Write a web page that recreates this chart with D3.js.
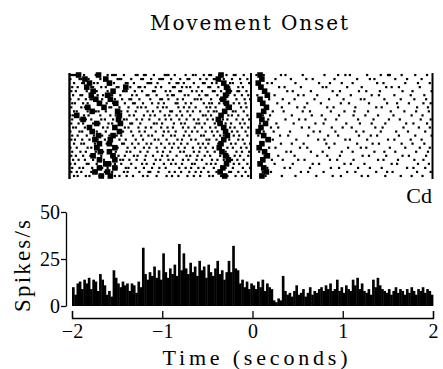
<!DOCTYPE html>
<html>
<head>
<meta charset="utf-8">
<script src="https://cdn.jsdelivr.net/npm/d3@7"></script>
<style>
  html, body { margin: 0; padding: 0; background: #fff; }
  svg { display: block; }
  text { fill: #000; }
</style>
</head>
<body>
<script>
// Spike times per trial, in centiseconds relative to movement onset
const trialSpikes = [
  [-198,-196,-194,-192,-184,-171,-169,-158,-153,-151,-149,-140,-127,-125,-118,-116,-107,-95,-93,-91,-84,-72,-64,-61,-52,-46,-44,-35,-27,-19,-17,-8,6,14,33,38,57,81,96,104,109,128,143,151,152,153,166,181,194],
  [-199,-189,-187,-179,-166,-161,-147,-145,-143,-132,-121,-119,-110,-101,-99,-97,-88,-78,-70,-68,-56,-49,-41,-39,-30,-21,-12,-4,12,27,44,61,68,92,117,131,136,159,172,188],
  [-195,-186,-184,-173,-169,-157,-151,-138,-136,-129,-114,-112,-110,-103,-90,-82,-80,-74,-63,-53,-51,-43,-38,-31,-23,-20,-11,-2,18,23,49,75,87,100,112,139,146,170,184,197],
  [-197,-191,-176,-174,-165,-160,-148,-146,-133,-124,-122,-117,-105,-99,-86,-84,-76,-71,-67,-58,-47,-45,-36,-26,-24,-14,-9,9,31,37,55,79,83,106,122,149,155,163,186],
  [-198,-193,-181,-172,-170,-158,-141,-139,-137,-128,-120,-108,-106,-94,-89,-79,-77,-65,-60,-54,-42,-40,-33,-22,-15,-13,-5,15,40,46,66,90,98,119,127,142,167,178,199],
  [-196,-188,-186,-169,-163,-155,-153,-144,-131,-126,-115,-113,-104,-92,-87,-85,-73,-69,-57,-50,-48,-37,-29,-25,-18,-10,-3,7,26,52,58,73,95,110,133,141,158,176,191],
  [-199,-190,-182,-177,-175,-164,-150,-142,-134,-132,-123,-111,-100,-98,-91,-81,-75,-62,-59,-55,-44,-34,-32,-28,-16,-7,-1,20,35,48,70,86,102,121,125,147,165,180,193],
  [-197,-194,-185,-180,-167,-159,-152,-139,-130,-128,-119,-109,-102,-96,-83,-81,-72,-66,-52,-46,-43,-35,-30,-19,-13,-6,11,29,42,62,77,99,108,130,150,161,174,190,198],
  [-198,-187,-183,-178,-162,-156,-154,-145,-135,-125,-121,-116,-103,-97,-93,-80,-74,-68,-61,-49,-45,-39,-27,-24,-11,-5,16,34,51,59,84,91,115,138,144,162,183,195],
  [-195,-192,-180,-171,-168,-160,-147,-143,-136,-127,-114,-108,-100,-89,-87,-78,-70,-64,-56,-47,-41,-38,-29,-20,-17,-8,24,36,57,65,88,103,114,129,154,169,182,196],
  [-199,-196,-184,-179,-166,-155,-149,-144,-134,-129,-118,-111,-106,-95,-90,-82,-76,-67,-53,-50,-44,-33,-25,-21,-14,-4,13,21,45,67,78,97,113,126,140,157,177,189],
  [-197,-188,-182,-176,-165,-161,-152,-140,-137,-126,-120,-112,-101,-94,-88,-79,-71,-63,-58,-48,-42,-31,-26,-16,-9,-2,19,38,53,60,82,94,118,135,152,164,187,198],
  [-198,-190,-185,-174,-167,-157,-153,-142,-133,-131,-122,-107,-104,-98,-85,-77,-73,-60,-57,-51,-40,-36,-28,-22,-12,-7,10,28,47,71,80,105,120,133,148,171,179,194],
  [-196,-193,-183,-177,-163,-158,-150,-139,-135,-124,-116,-110,-99,-92,-86,-75,-69,-62,-54,-45,-39,-32,-23,-18,-10,-3,22,30,56,64,89,101,111,137,145,168,185,197],
  [-199,-189,-186,-175,-170,-160,-146,-141,-132,-123,-117,-105,-96,-91,-83,-72,-65,-59,-50,-43,-37,-27,-21,-15,-6,14,25,43,69,76,93,116,124,143,160,173,192],
  [-197,-191,-181,-173,-164,-156,-148,-143,-130,-121,-113,-109,-97,-88,-84,-74,-68,-55,-52,-41,-34,-30,-19,-13,-4,8,32,41,63,85,96,119,132,139,163,181,199],
  [-198,-194,-186,-178,-169,-161,-154,-145,-138,-127,-119,-106,-102,-93,-81,-76,-66,-61,-49,-46,-38,-29,-24,-14,-9,17,24,50,74,81,104,109,128,151,158,176,188],
  [-195,-187,-184,-172,-166,-159,-142,-140,-131,-124,-115,-110,-99,-90,-85,-77,-70,-58,-53,-47,-36,-33,-22,-17,-7,-1,12,33,45,58,83,92,117,134,141,166,178,191],
  [-199,-192,-180,-176,-168,-151,-147,-136,-128,-118,-112,-104,-95,-87,-80,-73,-64,-56,-50,-42,-35,-26,-20,-11,-5,20,27,54,62,86,107,121,127,153,170,186,197],
  [-197,-188,-182,-171,-163,-157,-149,-137,-133,-122,-114,-103,-97,-89,-78,-74,-63,-57,-48,-40,-31,-28,-16,-10,-2,9,39,44,66,79,100,112,136,147,159,182,195],
  [-198,-193,-185,-177,-165,-154,-146,-139,-129,-125,-116,-108,-98,-92,-82,-71,-67,-59,-51,-45,-34,-25,-18,-12,-3,15,30,48,73,84,98,123,130,149,167,174,193],
  [-196,-190,-183,-174,-168,-162,-144,-141,-134,-126,-117,-105,-100,-91,-86,-75,-69,-60,-54,-43,-37,-30,-21,-15,-8,23,35,52,59,87,95,113,140,146,162,180,190],
  [-199,-194,-181,-179,-170,-155,-150,-143,-132,-120,-115,-107,-96,-88,-83,-76,-65,-62,-49,-44,-39,-27,-19,-13,-4,11,26,46,68,75,103,110,125,155,161,184,196],
  [-197,-189,-185,-175,-164,-158,-148,-138,-135,-127,-118,-109,-101,-94,-79,-72,-66,-58,-52,-41,-32,-28,-20,-9,-1,18,37,43,65,88,97,118,131,144,172,179,192],
  [-198,-192,-187,-176,-170,-161,-153,-140,-136,-123,-113,-111,-102,-90,-84,-77,-68,-61,-55,-47,-38,-24,-22,-14,-6,13,22,55,63,80,106,115,138,150,156,183,198],
  [-195,-191,-182,-178,-167,-163,-150,-145,-137,-130,-119,-114,-104,-93,-87,-80,-70,-63,-56,-46,-42,-33,-26,-17,-10,-3,16,34,49,72,90,99,122,129,148,165,177,189]
];

// Behavioural event markers per trial (centiseconds)
const eventA = [-190,-183,-178,-181,-174,-176,-171,-167,-180,-175,-192,-185,-170,-178,-175,-168,-172,-167,-170,-166,-174,-167,-160,-167,-172,-165];
const eventB = [-168,-160,-156,-138,-152,-158,-155,-149,-162,-147,-145,-146,-144,-150,-145,-152,-155,-156,-150,-156,-152,-150,-157,-150,-158,-155];
const eventC = [-33,-36,-30,-27,-25,-28,-31,-27,-24,-29,-33,-36,-34,-30,-28,-26,-30,-33,-35,-32,-28,-25,-27,-31,-34,-29];
const eventD = [10,12,8,11,15,18,10,13,17,14,9,12,16,11,8,14,19,12,9,15,18,13,10,14,17,12];

// Peri-event time histogram: firing rate (spikes/s) in 25 ms bins from -2 s to +2 s
const binWidth = 0.025;
const histRate = [
  10,6,12,13,9,14,12,15,9,14,
  13,8,17,14,11,6,8,5,19,15,
  12,10,13,11,12,8,12,11,7,13,
  10,31,17,14,18,16,21,15,19,14,
  28,18,15,20,17,22,16,33,19,28,
  20,17,23,18,21,16,24,19,21,15,
  22,18,16,20,24,17,19,14,18,24,
  18,32,20,19,12,14,10,13,9,12,
  11,9,13,10,14,8,12,10,9,3,
  2,4,3,16,8,6,7,5,8,11,
  6,7,9,5,7,10,6,8,7,9,
  10,8,11,9,12,8,9,14,8,10,
  7,11,9,8,14,11,15,9,12,8,
  7,9,6,14,10,15,11,9,8,7,
  9,6,8,10,7,9,8,6,9,7,
  10,8,6,9,8,10,7,9,8,6
];

const xTickValues = [-2, -1, 0, 1, 2];
const yTickValues = [0, 25, 50];

const W = 443, H = 369;
const svg = d3.select("body").append("svg").attr("width", W).attr("height", H);

const serif = "'Liberation Serif', 'Times New Roman', serif";

// Scales
const x = d3.scaleLinear().domain([-2, 2]).range([72, 433]);
const xr = d3.scaleLinear().domain([-2, 2]).range([69.5, 432.5]);
const rowBand = d3.scaleBand().domain(d3.range(trialSpikes.length)).range([73, 178]);
const y = d3.scaleLinear().domain([0, 50]).range([306, 212]);

// Title
svg.append("text")
  .attr("x", 249).attr("y", 30)
  .attr("text-anchor", "middle")
  .attr("font-family", "'DejaVu Serif', serif")
  .attr("font-size", 20)
  .attr("textLength", 198).attr("lengthAdjust", "spacing")
  .text("Movement Onset");

// Raster
const raster = svg.append("g");
const rowMid = i => rowBand(i) + rowBand.bandwidth() / 2;

trialSpikes.forEach((spikes, i) => {
  raster.append("g").selectAll("rect")
    .data(spikes)
    .join("rect")
    .attr("x", d => xr(d / 100) - 1.1)
    .attr("y", rowMid(i) - 1.1)
    .attr("width", 2.2)
    .attr("height", 2.2)
    .attr("fill", "#000");
});

[eventA, eventB, eventC, eventD].forEach(ev => {
  raster.append("g").selectAll("rect")
    .data(ev)
    .join("rect")
    .attr("x", d => xr(d / 100) - 2.8)
    .attr("y", (d, i) => rowMid(i) - 2.8)
    .attr("width", 5.6)
    .attr("height", 5.6)
    .attr("fill", "#000");
});

// Raster frame and onset line
[-2, 0, 2].forEach(t => {
  raster.append("line")
    .attr("x1", xr(t)).attr("x2", xr(t))
    .attr("y1", 73).attr("y2", 179)
    .attr("stroke", "#000")
    .attr("stroke-width", t === -2 ? 2.4 : 2);
});

svg.append("text")
  .attr("x", 432).attr("y", 203)
  .attr("text-anchor", "end")
  .attr("font-family", serif)
  .attr("font-size", 22)
  .text("Cd");

// Histogram bars
svg.append("g").selectAll("rect")
  .data(histRate)
  .join("rect")
  .attr("x", (d, i) => x(-2 + i * binWidth))
  .attr("width", (d, i) => x(-2 + (i + 1) * binWidth) - x(-2 + i * binWidth) + 0.4)
  .attr("y", d => y(d))
  .attr("height", d => y(0) - y(d))
  .attr("fill", "#000");

// Y axis
const yAxis = svg.append("g")
  .attr("transform", "translate(66,0)")
  .call(d3.axisLeft(y).tickValues(yTickValues).tickSizeInner(5).tickSizeOuter(0).tickPadding(1));
yAxis.select(".domain").attr("stroke-width", 1.3);
yAxis.selectAll(".tick line").attr("stroke-width", 1.3);
yAxis.selectAll("text").attr("font-family", serif).attr("font-size", 20).attr("fill", "#000");

// X axis (ticks point up into the plot)
const xAxis = svg.append("g")
  .attr("transform", "translate(0,318)")
  .call(d3.axisBottom(x).tickValues(xTickValues).tickSize(-7).tickPadding(6)
    .tickFormat(d => d < 0 ? "\u2212" + Math.abs(d) : String(d)));
xAxis.select(".domain").attr("stroke-width", 1.3);
xAxis.selectAll(".tick line").attr("stroke-width", 1.3);
xAxis.selectAll("text").attr("font-family", serif).attr("font-size", 20).attr("fill", "#000");

// Axis titles
svg.append("text")
  .attr("x", 255).attr("y", 365)
  .attr("text-anchor", "middle")
  .attr("font-family", serif)
  .attr("font-size", 22)
  .attr("textLength", 185).attr("lengthAdjust", "spacing")
  .text("Time (seconds)");

svg.append("text")
  .attr("transform", "translate(30,266) rotate(-90)")
  .attr("text-anchor", "middle")
  .attr("font-family", serif)
  .attr("font-size", 23)
  .attr("textLength", 92).attr("lengthAdjust", "spacing")
  .text("Spikes/s");
</script>
</body>
</html>
